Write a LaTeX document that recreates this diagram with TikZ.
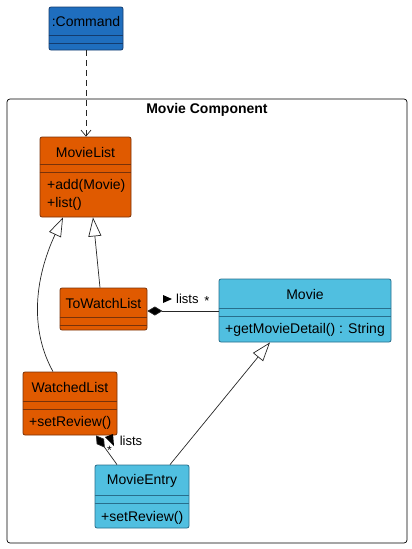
\documentclass[tikz,border=0pt]{standalone}
\usepackage{fontspec}
\setmainfont{Liberation Sans}
\usetikzlibrary{arrows.meta,calc}
\definecolor{cmdblue}{RGB}{31,110,190}
\definecolor{cmdborder}{RGB}{20,60,110}
\definecolor{orangeC}{RGB}{224,90,0}
\definecolor{orangeB}{RGB}{120,50,10}
\definecolor{lblue}{RGB}{80,191,224}
\definecolor{lblueB}{RGB}{40,110,140}
\tikzset{
  cls/.style={draw, rounded corners=2pt, line width=0.8pt, inner sep=0pt},
  ocls/.style={cls, fill=orangeC, draw=orangeB},
  bcls/.style={cls, fill=lblue, draw=lblueB},
  ccls/.style={cls, fill=cmdblue, draw=cmdborder},
  txt/.style={inner sep=0pt, font=\fontsize{14}{16}\selectfont},
  mtxt/.style={txt, anchor=west},
  conn/.style={line width=0.7pt, draw=black!85},
  inh/.style={conn, -{Triangle[open, length=19pt, width=13pt, fill=white]}},
  comp/.style={conn, {Diamond[length=15pt, width=9pt, fill=black]}-},
}
\begin{document}
\begin{tikzpicture}[x=1pt,y=-1pt]
\useasboundingbox (0,0) rectangle (412,549);
% package frame
\node[draw, rounded corners=3pt, line width=0.7pt, minimum width=400pt, minimum height=444pt, inner sep=0pt] (pkg) at (207,321) {};
\node[txt, font=\fontsize{14}{16}\selectfont\bfseries] (pkgt) at (207,110) {Movie Component};

% :Command
\node[ccls, minimum width=74pt, minimum height=43pt] (cmd) at (86,28.5) {};
\node[txt] (cmdt) at (86,21) {:Command};
\draw[cmdborder, line width=0.8pt] (cmd.west |- 0,35) -- (cmd.east |- 0,35);
\draw[cmdborder, line width=0.8pt] (cmd.west |- 0,43) -- (cmd.east |- 0,43);

% MovieList
\node[ocls, minimum width=91pt, minimum height=80pt] (ml) at (85.5,177) {};
\node[txt] (mlt) at (85.5,152) {MovieList};
\draw[orangeB, line width=0.8pt] (ml.west |- 0,164) -- (ml.east |- 0,164);
\draw[orangeB, line width=0.8pt] (ml.west |- 0,172) -- (ml.east |- 0,172);
\node[mtxt] (mlm1) at (47,186) {+add(Movie)};
\node[mtxt] (mlm2) at (47,204) {+list()};

% ToWatchList
\node[ocls, minimum width=87pt, minimum height=42pt] (tw) at (103.5,309) {};
\node[txt] (twt) at (103.5,303) {ToWatchList};
\draw[orangeB, line width=0.8pt] (tw.west |- 0,317) -- (tw.east |- 0,317);
\draw[orangeB, line width=0.8pt] (tw.west |- 0,325) -- (tw.east |- 0,325);

% Movie
\node[bcls, minimum width=172pt, minimum height=63pt] (mv) at (305,310.5) {};
\node[txt] (mvt) at (305,294) {Movie};
\draw[lblueB, line width=0.8pt] (mv.west |- 0,308) -- (mv.east |- 0,308);
\draw[lblueB, line width=0.8pt] (mv.west |- 0,316) -- (mv.east |- 0,316);
\node[mtxt] (mvm1) at (225,330) {+getMovieDetail() : String};

% WatchedList
\node[ocls, minimum width=94pt, minimum height=63pt] (wl) at (70,403.5) {};
\node[txt] (wlt) at (70,387) {WatchedList};
\draw[orangeB, line width=0.8pt] (wl.west |- 0,401) -- (wl.east |- 0,401);
\draw[orangeB, line width=0.8pt] (wl.west |- 0,409) -- (wl.east |- 0,409);
\node[mtxt] (wlm1) at (29,423) {+setReview()};

% MovieEntry
\node[bcls, minimum width=94pt, minimum height=63pt] (me) at (142,496.5) {};
\node[txt] (met) at (142,481) {MovieEntry};
\draw[lblueB, line width=0.8pt] (me.west |- 0,495) -- (me.east |- 0,495);
\draw[lblueB, line width=0.8pt] (me.west |- 0,503) -- (me.east |- 0,503);
\node[mtxt] (mem1) at (101,518) {+setReview()};

% connectors
\draw[conn, dashed, dash pattern=on 6pt off 4pt, -{Straight Barb[length=6pt, width=10pt]}] (cmd.south) -- (86,50 |- ml.north);
\draw[inh] (tw.north -| 100,0) -- (ml.south -| 93,0);
\draw[inh] (wl.north -| 53,0) .. controls (30,330) and (34,280) .. (ml.south -| 63,0);
\draw[inh] (me.north -| 170,0) -- (mv.south -| 270,0);
\draw[comp] (tw.east |- 0,311) -- (mv.west |- 0,311);
\draw[comp] (wl.south -| 96,0) -- (me.north -| 117,0);

% labels
\fill (163,295) -- (172,299) -- (163,303) -- cycle;
\node[txt, anchor=west, font=\fontsize{13}{15}\selectfont] (lb1) at (176,299) {lists};
\node[txt, font=\fontsize{13}{15}\selectfont] (st1) at (207,301) {*};
\node[txt, font=\fontsize{13}{15}\selectfont] (lb2) at (131,441) {lists};
\fill (114,446) -- (105,437) -- (113,434) -- cycle;
\node[txt, font=\fontsize{12}{14}\selectfont] (st2) at (109.5,450) {*};
\end{tikzpicture}
\end{document}
